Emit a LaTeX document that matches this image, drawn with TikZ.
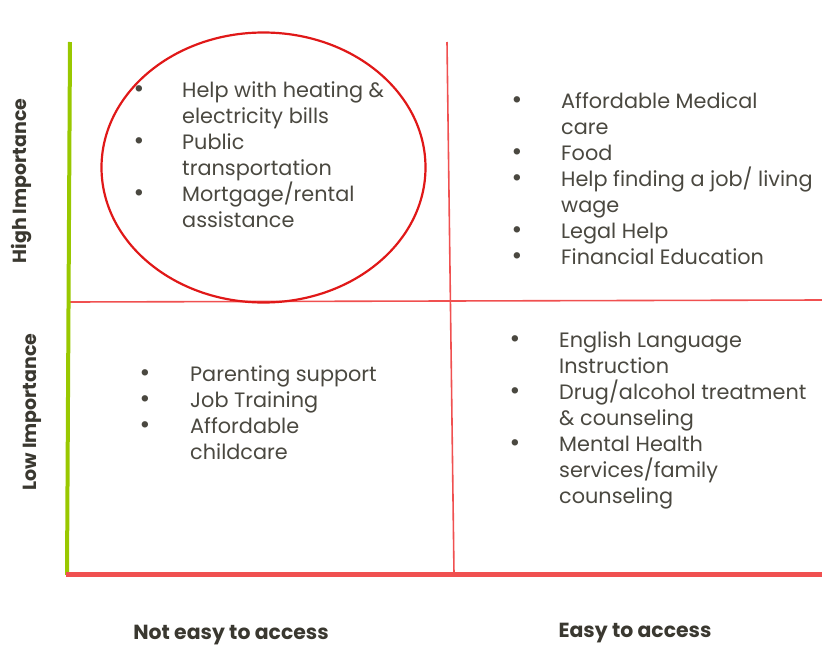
\documentclass[tikz,border=0pt]{standalone}
\usepackage{fontspec}
\usetikzlibrary{shapes.geometric}
\setmainfont{Poppins}
\definecolor{txt}{HTML}{4A4840}
\definecolor{lab}{HTML}{3A3830}
\definecolor{grn}{HTML}{99C800}
\definecolor{redl}{HTML}{F05050}
\definecolor{circ}{HTML}{E01818}
\tikzset{
  itemtxt/.style={anchor=base west, inner sep=0pt, text=txt, font=\fontsize{20.8}{24}\selectfont},
  bul/.style={anchor=base, inner sep=0pt, text=txt, font=\fontsize{26}{28}\selectfont},
  axlab/.style={inner sep=0pt, text=lab, font=\fontsize{20.4}{24}\selectfont\bfseries},
  sidelab/.style={inner sep=0pt, text=lab, font=\fontsize{19}{22}\selectfont\bfseries},
  thinred/.style={draw=redl, line width=1.6pt},
}
\begin{document}
\begin{tikzpicture}[x=1pt,y=-1pt]
\useasboundingbox (0,0) rectangle (822,645);
% grid lines
\coordinate (gt) at (70,42);
\coordinate (gb) at (67,575);
\coordinate (hl) at (70,302);
\coordinate (hr) at (822,300);
\coordinate (vt) at (447,42);
\coordinate (vb) at (454,574);
\coordinate (bl) at (66,574);
\coordinate (br) at (822,574);
\draw[thinred] (hl) -- (hr);
\draw[thinred] (vt) -- (vb);
\draw[draw=grn, line width=4pt] (gt) -- (gb);
\draw[draw=redl, line width=5pt] (bl) -- (br);
% ellipse
\node[draw=circ, line width=2.2pt, ellipse, minimum width=324pt, minimum height=270pt, inner sep=0pt] (ell) at (263.5,167.5) {};
% axis labels
\node[sidelab, rotate=90, anchor=base] (hi) at (27,181) {High Importance};
\node[sidelab, rotate=90, anchor=base] (lo) at (36,412) {Low Importance};
\node[axlab, anchor=base] (ne) at (231,639) {Not easy to access};
\node[axlab, anchor=base] (ea) at (635,637) {Easy to access};
% top-left
\node[bul] (b11) at (139,97) {•};
\node[itemtxt] (t11) at (182,97) {Help with heating \&};
\node[itemtxt] (t12) at (182,123) {electricity bills};
\node[bul] (b12) at (139,149) {•};
\node[itemtxt] (t13) at (182,149) {Public};
\node[itemtxt] (t14) at (182,175) {transportation};
\node[bul] (b13) at (139,201) {•};
\node[itemtxt] (t15) at (182,201) {Mortgage/rental};
\node[itemtxt] (t16) at (182,227) {assistance};
% top-right
\node[bul] (b21) at (517,108) {•};
\node[itemtxt] (t21) at (561,108) {Affordable Medical};
\node[itemtxt] (t22) at (561,134) {care};
\node[bul] (b22) at (517,160) {•};
\node[itemtxt] (t23) at (561,160) {Food};
\node[bul] (b23) at (517,186) {•};
\node[itemtxt] (t24) at (561,186) {Help finding a job/ living};
\node[itemtxt] (t25) at (561,212) {wage};
\node[bul] (b24) at (517,238) {•};
\node[itemtxt] (t26) at (561,238) {Legal Help};
\node[bul] (b25) at (517,264) {•};
\node[itemtxt] (t27) at (561,264) {Financial Education};
% bottom-left
\node[bul] (b31) at (145,381) {•};
\node[itemtxt] (t31) at (190,381) {Parenting support};
\node[bul] (b32) at (145,407) {•};
\node[itemtxt] (t32) at (190,407) {Job Training};
\node[bul] (b33) at (145,433) {•};
\node[itemtxt] (t33) at (190,433) {Affordable};
\node[itemtxt] (t34) at (190,459) {childcare};
% bottom-right
\node[bul] (b41) at (515,347) {•};
\node[itemtxt] (t41) at (559,347) {English Language};
\node[itemtxt] (t42) at (559,373) {Instruction};
\node[bul] (b42) at (515,399) {•};
\node[itemtxt] (t43) at (559,399) {Drug/alcohol treatment};
\node[itemtxt] (t44) at (559,425) {\& counseling};
\node[bul] (b43) at (515,451) {•};
\node[itemtxt] (t45) at (559,451) {Mental Health};
\node[itemtxt] (t46) at (559,477) {services/family};
\node[itemtxt] (t47) at (559,503) {counseling};
\end{tikzpicture}
\end{document}
